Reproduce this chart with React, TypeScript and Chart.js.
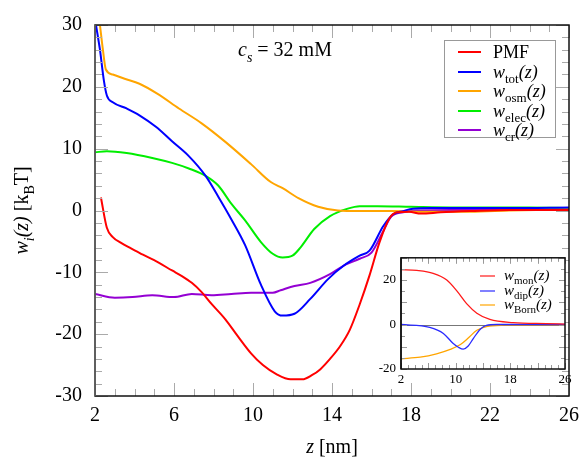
import { useEffect, useRef } from 'react';
import { Chart, registerables, Plugin } from 'chart.js';

Chart.register(...registerables);

const SERIF = '"Liberation Serif", "DejaVu Serif", serif';

// ---- main panel: potential of mean force and its components (kBT) ----
const zPMF = [2.3, 2.6, 2.9, 3.3, 3.8, 4.4, 5.2, 5.9, 6.4, 6.9, 7.4, 7.9, 8.6, 9.2, 9.9, 10.5, 11.2, 11.9, 12.5, 13.0, 13.4, 13.9, 14.4, 14.9, 15.4, 15.9, 16.4, 16.9, 17.3, 17.9, 18.5, 19.5, 21, 23, 26];
const wPMF = [2.1, -2.8, -4.3, -5.2, -6.1, -7.1, -8.4, -9.7, -10.6, -11.7, -13.2, -15.1, -17.6, -20.2, -23.1, -25.0, -26.5, -27.3, -27.3, -26.6, -25.7, -24.0, -22.0, -19.3, -15.2, -10.5, -5.2, -1.3, -0.3, -0.2, -0.5, -0.3, -0.1, 0.1, 0.1];

const zTot = [2.05, 2.25, 2.45, 2.6, 2.9, 3.6, 4.25, 5.1, 5.9, 6.75, 7.6, 8.25, 8.9, 9.6, 10.4, 11.1, 11.5, 12.1, 12.9, 13.8, 14.6, 15.4, 15.9, 16.6, 17.1, 17.6, 18.1, 19, 21, 23, 26];
const wTot = [30, 26, 21, 18.6, 17.5, 16.5, 15.4, 13.5, 11.2, 8.8, 5.6, 2.2, -1.4, -5.6, -12.0, -16.3, -17.0, -16.7, -14.3, -11.1, -8.9, -7.3, -6.5, -2.5, -0.6, -0.1, 0.3, 0.4, 0.4, 0.4, 0.5];

const zOsm = [2.25, 2.4, 2.55, 2.9, 3.5, 4.25, 5.15, 6.25, 7.4, 8.6, 9.9, 10.9, 11.5, 12.3, 13.3, 14.3, 15.4, 17, 19, 21, 23, 26];
const wOsm = [30, 26, 22.8, 22.0, 21.3, 20.5, 18.9, 16.5, 14.1, 11.1, 7.5, 4.6, 3.6, 2.0, 0.6, 0, -0.1, -0.1, -0.2, -0.2, 0, 0.2];

const zElec = [2.0, 2.6, 3.6, 4.9, 5.9, 6.75, 7.6, 8.25, 8.9, 9.6, 10.4, 11.0, 11.5, 12.0, 12.4, 13.1, 13.9, 14.8, 15.4, 16.3, 18, 20, 22, 24, 26];
const wElec = [9.4, 9.6, 9.3, 8.5, 7.7, 6.8, 5.6, 4.0, 1.1, -1.6, -5.1, -7.0, -7.6, -7.3, -6.0, -3.0, -0.9, 0.3, 0.7, 0.7, 0.6, 0.5, 0.5, 0.5, 0.4];

const zCr = [2.0, 3.0, 3.9, 4.9, 6.0, 6.9, 7.9, 8.9, 9.9, 11.0, 11.4, 12.1, 12.9, 13.9, 14.6, 15.4, 16.0, 16.6, 17.0, 17.6, 18.3, 20, 22, 24, 26];
const wCr = [-13.5, -14.1, -14.0, -13.7, -14.0, -13.5, -13.7, -13.5, -13.3, -13.3, -12.9, -12.2, -11.7, -10.3, -8.9, -7.8, -6.8, -3.3, -1.0, -0.3, 0.0, 0.1, 0.1, 0.1, 0.1];

const mainTicksX = [2, 6, 10, 14, 18, 22, 26];
const mainTicksY = [-30, -20, -10, 0, 10, 20, 30];

// ---- inset: electrostatic decomposition ----
const zMon = [2, 4.3, 6.7, 8.7, 10.2, 11.6, 13.1, 15.0, 18.4, 23.3, 26];
const wMon = [24.7, 24.3, 23, 20, 15, 9.4, 5.1, 2.3, 0.85, 0.4, 0.2];
const zDip = [2, 6.2, 8.2, 9.6, 10.4, 11.1, 11.8, 12.6, 13.6, 14.5, 16, 26];
const wDip = [0, -1.3, -4, -8.4, -10.2, -11.1, -9.8, -6.2, -2.1, -0.4, 0, 0];
const zBorn = [2, 4.8, 7.2, 9.2, 10.7, 11.8, 13.1, 14.5, 17, 26];
const wBorn = [-15.4, -14.7, -13.2, -11.2, -9.0, -6.2, -2.6, -0.9, -0.3, -0.1];

const insetTicksX = [2, 10, 18, 26];
const insetTicksY = [-20, 0, 20];

type Part = { t: string; it?: boolean; sub?: boolean };

const fontOf = (p: Part, size: number) =>
  `${p.it ? 'italic ' : ''}${p.sub ? Math.round(size * 0.7) : size}px ${SERIF}`;

function richWidth(ctx: CanvasRenderingContext2D, parts: Part[], size: number) {
  let w = 0;
  for (const p of parts) {
    ctx.font = fontOf(p, size);
    w += ctx.measureText(p.t).width;
  }
  return w;
}

function drawRich(ctx: CanvasRenderingContext2D, parts: Part[], x: number, y: number, size: number, align: 'left' | 'center' = 'left') {
  let cx = align === 'center' ? x - richWidth(ctx, parts, size) / 2 : x;
  ctx.textAlign = 'left';
  ctx.textBaseline = 'alphabetic';
  ctx.fillStyle = '#000';
  for (const p of parts) {
    ctx.font = fontOf(p, size);
    ctx.fillText(p.t, cx, p.sub ? y + size * 0.28 : y);
    cx += ctx.measureText(p.t).width;
  }
}

const wLabel = (sub: string): Part[] => [
  { t: 'w', it: true },
  { t: sub, sub: true },
  { t: '(z)', it: true },
];

const pts = (zs: number[], ws: number[]) => zs.map((z, i) => ({ x: z, y: ws[i] }));

type FrameOpts = {
  xStep: number; xMajor: number; yStep: number; yMajor: number;
  majorLen: number; minorLen: number; tickColor: string;
  frameColor: string; leftColor: string; lw: number;
};

function framePlugin(o: FrameOpts): Plugin<'line'> {
  return {
    id: 'frameTicks',
    afterDatasetsDraw(chart) {
      const { ctx, chartArea: a, scales } = chart;
      const xs = scales.x, ys = scales.y;
      ctx.save();
      ctx.strokeStyle = o.tickColor;
      ctx.lineWidth = 1;
      const isMajor = (v: number, base: number, every: number) => {
        const r = (v - base) / every;
        return Math.abs(r - Math.round(r)) < 1e-6;
      };
      for (let v = xs.min; v <= xs.max + 1e-9; v += o.xStep) {
        const px = Math.round(xs.getPixelForValue(v)) + 0.5;
        const len = isMajor(v, xs.min, o.xMajor) ? o.majorLen : o.minorLen;
        ctx.beginPath();
        ctx.moveTo(px, a.bottom); ctx.lineTo(px, a.bottom - len);
        ctx.moveTo(px, a.top); ctx.lineTo(px, a.top + len);
        ctx.stroke();
      }
      for (let v = ys.min; v <= ys.max + 1e-9; v += o.yStep) {
        const py = Math.round(ys.getPixelForValue(v)) + 0.5;
        const len = isMajor(v, 0, o.yMajor) ? o.majorLen : o.minorLen;
        ctx.beginPath();
        ctx.moveTo(a.left, py); ctx.lineTo(a.left + len, py);
        ctx.moveTo(a.right, py); ctx.lineTo(a.right - len, py);
        ctx.stroke();
      }
      ctx.strokeStyle = o.frameColor;
      ctx.lineWidth = o.lw;
      ctx.strokeRect(a.left, a.top, a.right - a.left, a.bottom - a.top);
      ctx.strokeStyle = o.leftColor;
      ctx.beginPath();
      ctx.moveTo(a.left, a.top); ctx.lineTo(a.left, a.bottom);
      ctx.stroke();
      ctx.restore();
    },
  };
}

const mainLabels: Part[][] = [
  [{ t: 'PMF' }],
  wLabel('tot'),
  wLabel('osm'),
  wLabel('elec'),
  wLabel('cr'),
];

const mainDecor: Plugin<'line'> = {
  id: 'mainDecor',
  afterDraw(chart) {
    const { ctx, chartArea: a } = chart;
    ctx.save();
    // legend box
    const bx = 444, by = 40, bw = 111, bh = 97;
    ctx.fillStyle = '#fff';
    ctx.fillRect(bx, by, bw, bh);
    ctx.strokeStyle = '#999';
    ctx.lineWidth = 1;
    ctx.strokeRect(bx + 0.5, by + 0.5, bw, bh);
    const rows = [52, 72, 91, 111, 130];
    chart.data.datasets.forEach((ds, i) => {
      const y = rows[i];
      ctx.strokeStyle = ds.borderColor as string;
      ctx.lineWidth = 2;
      ctx.beginPath();
      ctx.moveTo(458, y); ctx.lineTo(481, y);
      ctx.stroke();
      drawRich(ctx, mainLabels[i], 493, y + 6, 18);
    });
    // concentration annotation
    drawRich(ctx, [{ t: 'c', it: true }, { t: 's', it: true, sub: true }, { t: ' = 32 mM' }], 238, 56, 20);
    // axis titles
    drawRich(ctx, [{ t: 'z', it: true }, { t: ' [nm]' }], (a.left + a.right) / 2, 453, 20, 'center');
    ctx.save();
    ctx.translate(28, (a.top + a.bottom) / 2);
    ctx.rotate(-Math.PI / 2);
    drawRich(ctx, [
      { t: 'w', it: true }, { t: 'i', it: true, sub: true }, { t: '(z)', it: true },
      { t: ' [k' }, { t: 'B', sub: true }, { t: 'T]' },
    ], 0, 0, 20, 'center');
    ctx.restore();
    ctx.restore();
  },
};

const insetLabels: Part[][] = [wLabel('mon'), wLabel('dip'), wLabel('Born')];

const insetDecor: Plugin<'line'> = {
  id: 'insetDecor',
  beforeDraw(chart) {
    const { ctx, chartArea: a } = chart;
    ctx.save();
    ctx.fillStyle = '#fff';
    ctx.fillRect(a.left, a.top, a.right - a.left, a.bottom - a.top);
    ctx.restore();
  },
  beforeDatasetsDraw(chart) {
    const { ctx, chartArea: a, scales } = chart;
    const y0 = Math.round(scales.y.getPixelForValue(0)) + 0.5;
    ctx.save();
    ctx.strokeStyle = '#777';
    ctx.lineWidth = 1;
    ctx.beginPath();
    ctx.moveTo(a.left, y0); ctx.lineTo(a.right, y0);
    ctx.stroke();
    ctx.restore();
  },
  afterDraw(chart) {
    const { ctx } = chart;
    ctx.save();
    const rows = [31, 46, 60];
    chart.data.datasets.forEach((ds, i) => {
      const y = rows[i];
      ctx.strokeStyle = ds.borderColor as string;
      ctx.lineWidth = 1.2;
      ctx.beginPath();
      ctx.moveTo(110, y); ctx.lineTo(125, y);
      ctx.stroke();
      drawRich(ctx, insetLabels[i], 134, y + 4, 15);
    });
    ctx.restore();
  },
};

function MainChart() {
  const ref = useRef<HTMLCanvasElement>(null);
  useEffect(() => {
    if (!ref.current) return;
    const line = (label: string, color: string, zs: number[], ws: number[]) => ({
      label, data: pts(zs, ws), borderColor: color, backgroundColor: color,
      borderWidth: 2, pointRadius: 0, cubicInterpolationMode: 'monotone' as const,
    });
    const chart = new Chart(ref.current, {
      type: 'line',
      data: {
        datasets: [
          line('PMF', '#ff0000', zPMF, wPMF),
          line('w_tot(z)', '#0000ff', zTot, wTot),
          line('w_osm(z)', '#ffa500', zOsm, wOsm),
          line('w_elec(z)', '#00ee00', zElec, wElec),
          line('w_cr(z)', '#9400d3', zCr, wCr),
        ],
      },
      options: {
        animation: false,
        responsive: false,
        devicePixelRatio: 1,
        layout: { padding: { top: 18, right: 13, left: 0, bottom: 0 } },
        plugins: { legend: { display: false }, tooltip: { enabled: false } },
        scales: {
          x: {
            type: 'linear', min: 2, max: 26,
            afterFit: (s: any) => { s.height = 69; },
            afterBuildTicks: (s: any) => { s.ticks = mainTicksX.map((v) => ({ value: v })); },
            grid: { display: false, drawTicks: false },
            border: { display: false },
            ticks: { font: { family: SERIF, size: 20 }, color: '#000', padding: 8, maxRotation: 0 },
          },
          y: {
            type: 'linear', min: -30, max: 30,
            afterFit: (s: any) => { s.width = 95; },
            afterBuildTicks: (s: any) => { s.ticks = mainTicksY.map((v) => ({ value: v })); },
            grid: { display: false, drawTicks: false },
            border: { display: false },
            ticks: { font: { family: SERIF, size: 20 }, color: '#000', padding: 13 },
          },
        },
      },
      plugins: [
        framePlugin({ xStep: 1, xMajor: 4, yStep: 2, yMajor: 10, majorLen: 13, minorLen: 7, tickColor: '#aaa', frameColor: '#111', leftColor: '#666', lw: 1.5 }),
        mainDecor,
      ],
    });
    return () => chart.destroy();
  }, []);
  return <canvas ref={ref} width={587} height={465} style={{ position: 'absolute', left: 0, top: 0 }} />;
}

function InsetChart() {
  const ref = useRef<HTMLCanvasElement>(null);
  useEffect(() => {
    if (!ref.current) return;
    const line = (label: string, color: string, zs: number[], ws: number[]) => ({
      label, data: pts(zs, ws), borderColor: color, backgroundColor: color,
      borderWidth: 1.3, pointRadius: 0, cubicInterpolationMode: 'monotone' as const,
    });
    const chart = new Chart(ref.current, {
      type: 'line',
      data: {
        datasets: [
          line('w_mon(z)', '#ff1a1a', zMon, wMon),
          line('w_dip(z)', '#2a2aff', zDip, wDip),
          line('w_Born(z)', '#ffa500', zBorn, wBorn),
        ],
      },
      options: {
        animation: false,
        responsive: false,
        devicePixelRatio: 1,
        layout: { padding: { top: 7, right: 15, left: 0, bottom: 0 } },
        plugins: { legend: { display: false }, tooltip: { enabled: false } },
        scales: {
          x: {
            type: 'linear', min: 2, max: 26,
            afterFit: (s: any) => { s.height = 21; },
            afterBuildTicks: (s: any) => { s.ticks = insetTicksX.map((v) => ({ value: v })); },
            grid: { display: false, drawTicks: false },
            border: { display: false },
            ticks: { font: { family: SERIF, size: 13 }, color: '#000', padding: 3, maxRotation: 0 },
          },
          y: {
            type: 'linear', min: -20, max: 30,
            afterFit: (s: any) => { s.width = 31; },
            afterBuildTicks: (s: any) => { s.ticks = insetTicksY.map((v) => ({ value: v })); },
            grid: { display: false, drawTicks: false },
            border: { display: false },
            ticks: { font: { family: SERIF, size: 13 }, color: '#000', padding: 5 },
          },
        },
      },
      plugins: [
        framePlugin({ xStep: 1, xMajor: 4, yStep: 5, yMajor: 10, majorLen: 6, minorLen: 4, tickColor: '#999', frameColor: '#111', leftColor: '#111', lw: 1.5 }),
        insetDecor,
      ],
    });
    return () => chart.destroy();
  }, []);
  return <canvas ref={ref} width={210} height={145} style={{ position: 'absolute', left: 370, top: 245 }} />;
}

export default function App() {
  return (
    <div style={{ position: 'fixed', left: 0, top: 0, width: 587, height: 465, background: '#fff' }}>
      <MainChart />
      <InsetChart />
    </div>
  );
}
